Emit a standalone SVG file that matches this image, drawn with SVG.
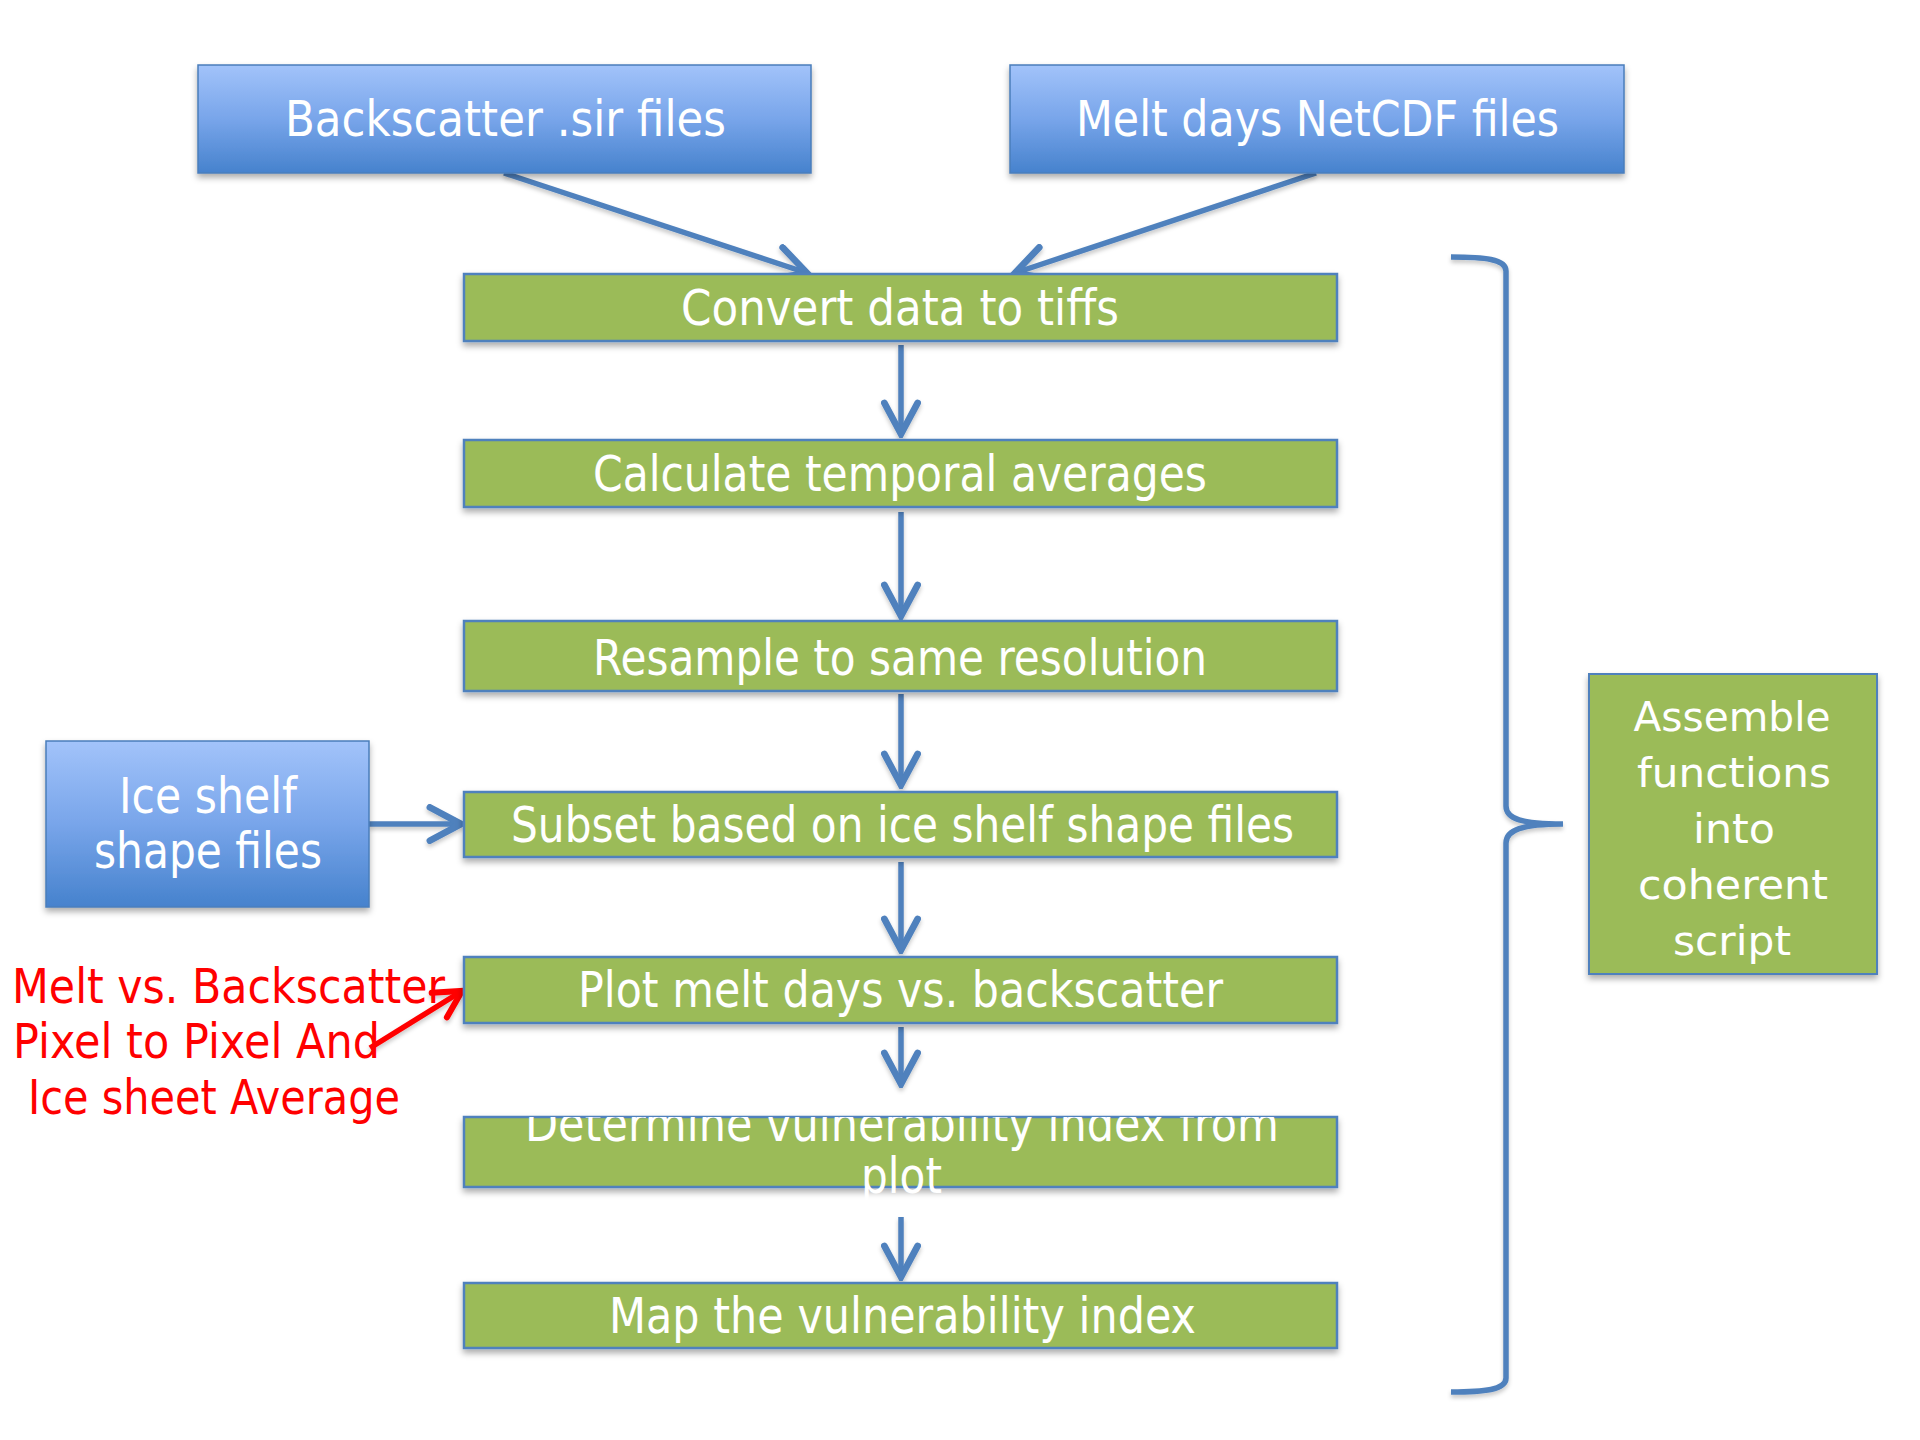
<svg xmlns="http://www.w3.org/2000/svg" width="1920" height="1440" viewBox="0 0 1920 1440">
  <defs>
    <linearGradient id="blueFill" x1="0" y1="0" x2="0" y2="1">
      <stop offset="0" stop-color="#a2c3fa"/>
      <stop offset="0.5" stop-color="#78a5ea"/>
      <stop offset="1" stop-color="#4682cd"/>
    </linearGradient>
    <filter id="shadow" x="-5%" y="-20%" width="110%" height="150%">
      <feDropShadow dx="0" dy="4" stdDeviation="3" flood-color="#000" flood-opacity="0.32"/>
    </filter>
    <filter id="lineShadow" x="-10%" y="-10%" width="120%" height="130%">
      <feDropShadow dx="0" dy="3" stdDeviation="2" flood-color="#000" flood-opacity="0.22"/>
    </filter>
    <marker id="openArrow" markerUnits="userSpaceOnUse" markerWidth="40" markerHeight="40" viewBox="-32 -18 36 36" refX="0" refY="0" orient="auto">
      <path d="M-28,-15 L0,0 L-28,15" fill="none" stroke="#4f81bd" stroke-width="6" stroke-linecap="round" stroke-linejoin="miter"/>
    </marker>
    <marker id="openArrowRed" markerUnits="userSpaceOnUse" markerWidth="40" markerHeight="40" viewBox="-32 -18 36 36" refX="0" refY="0" orient="auto">
      <path d="M-24,-13 L0,0 L-24,13" fill="none" stroke="#ff0000" stroke-width="5.5" stroke-linecap="round" stroke-linejoin="miter"/>
    </marker>
    <clipPath id="clipDetermine">
      <rect x="0" y="1117" width="1920" height="200"/>
    </clipPath>
    <style>
      .src { fill: url(#blueFill); stroke: #4a7ebb; stroke-width: 1.5; filter: url(#shadow); }
      .step { fill: #9bbb59; stroke: #4f81bd; stroke-width: 2.5; filter: url(#shadow); }
      .side { fill: #9bbb59; stroke: #4f81bd; stroke-width: 2; filter: url(#shadow); }
      .lbl { font-family: "DejaVu Sans", "Liberation Sans", sans-serif; font-size: 49px; fill: #ffffff; }
      .lbl2 { font-family: "DejaVu Sans", "Liberation Sans", sans-serif; font-size: 41px; fill: #ffffff; text-anchor: middle; }
      .note { font-family: "DejaVu Sans", "Liberation Sans", sans-serif; font-size: 48px; fill: #ff0000; }
      .conn { fill: none; stroke: #4f81bd; stroke-width: 5.5; marker-end: url(#openArrow); }
      .brace { fill: none; stroke: #4f81bd; stroke-width: 5.5; stroke-linecap: butt; }
    </style>
  </defs>

  <rect x="0" y="0" width="1920" height="1440" fill="#ffffff"/>

  <!-- connectors -->
  <g id="connectors" filter="url(#lineShadow)">
    <path class="conn" d="M504,173 L807,273"/>
    <path class="conn" d="M1316,173 L1015,273"/>
    <path class="conn" d="M901,345 L901,434"/>
    <path class="conn" d="M901,512 L901,616"/>
    <path class="conn" d="M901,694 L901,785"/>
    <path class="conn" d="M901,862 L901,950"/>
    <path class="conn" d="M901,1027 L901,1084"/>
    <path class="conn" d="M901,1217 L901,1277"/>
    <path class="conn" d="M369,824 L461,824"/>
    <path d="M370,1048 L462,991" fill="none" stroke="#ff0000" stroke-width="5.5" marker-end="url(#openArrowRed)"/>
    <path class="brace" d="M1451,257 C1484,257 1506,259 1506,271 L1506,806 C1506,819 1522,824 1563,824 C1522,824 1506,830 1506,843 L1506,1378 C1506,1390 1484,1392 1451,1392"/>
  </g>

  <!-- input sources -->
  <g id="node-backscatter">
    <rect class="src" x="198" y="65" width="613" height="108"/>
    <text class="lbl" x="285" y="136" textLength="441" lengthAdjust="spacingAndGlyphs">Backscatter .sir files</text>
  </g>
  <g id="node-meltdays">
    <rect class="src" x="1010" y="65" width="614" height="108"/>
    <text class="lbl" x="1076" y="136" textLength="483" lengthAdjust="spacingAndGlyphs">Melt days NetCDF files</text>
  </g>
  <g id="node-iceshelf">
    <rect class="src" x="46" y="741" width="323" height="166"/>
    <text class="lbl" x="119" y="813" textLength="178" lengthAdjust="spacingAndGlyphs">Ice shelf</text>
    <text class="lbl" x="94" y="868" textLength="228" lengthAdjust="spacingAndGlyphs">shape files</text>
  </g>

  <!-- processing steps -->
  <g id="node-convert">
    <rect class="step" x="464" y="274" width="873" height="67"/>
    <text class="lbl" x="681" y="325" textLength="438" lengthAdjust="spacingAndGlyphs">Convert data to tiffs</text>
  </g>
  <g id="node-calculate">
    <rect class="step" x="464" y="440" width="873" height="67"/>
    <text class="lbl" x="593" y="491" textLength="614" lengthAdjust="spacingAndGlyphs">Calculate temporal averages</text>
  </g>
  <g id="node-resample">
    <rect class="step" x="464" y="621" width="873" height="70"/>
    <text class="lbl" x="593" y="675" textLength="614" lengthAdjust="spacingAndGlyphs">Resample to same resolution</text>
  </g>
  <g id="node-subset">
    <rect class="step" x="464" y="792" width="873" height="65"/>
    <text class="lbl" x="511" y="842" textLength="783" lengthAdjust="spacingAndGlyphs">Subset based on ice shelf shape files</text>
  </g>
  <g id="node-plot">
    <rect class="step" x="464" y="957" width="873" height="66"/>
    <text class="lbl" x="578" y="1007" textLength="645" lengthAdjust="spacingAndGlyphs">Plot melt days vs. backscatter</text>
  </g>
  <g id="node-determine">
    <rect class="step" x="464" y="1117" width="873" height="70"/>
    <text class="lbl" x="525" y="1141" textLength="754" lengthAdjust="spacingAndGlyphs" clip-path="url(#clipDetermine)">Determine vulnerability index from</text>
    <text class="lbl" x="861" y="1193" textLength="81" lengthAdjust="spacingAndGlyphs">plot</text>
  </g>
  <g id="node-map">
    <rect class="step" x="464" y="1283" width="873" height="65"/>
    <text class="lbl" x="609" y="1333" textLength="587" lengthAdjust="spacingAndGlyphs">Map the vulnerability index</text>
  </g>

  <!-- summary box beside the brace -->
  <g id="node-assemble">
    <rect class="side" x="1589" y="674" width="288" height="300"/>
    <text class="lbl2" x="1732" y="731" textLength="197" lengthAdjust="spacingAndGlyphs">Assemble</text>
    <text class="lbl2" x="1734" y="787" textLength="194" lengthAdjust="spacingAndGlyphs">functions</text>
    <text class="lbl2" x="1734" y="843" textLength="82" lengthAdjust="spacingAndGlyphs">into</text>
    <text class="lbl2" x="1733" y="899" textLength="190" lengthAdjust="spacingAndGlyphs">coherent</text>
    <text class="lbl2" x="1732" y="955" textLength="118" lengthAdjust="spacingAndGlyphs">script</text>
  </g>

  <!-- red annotation -->
  <g id="note-melt-vs-backscatter">
    <text class="note" x="12" y="1003" textLength="433" lengthAdjust="spacingAndGlyphs">Melt vs. Backscatter</text>
    <text class="note" x="13" y="1058" textLength="367" lengthAdjust="spacingAndGlyphs">Pixel to Pixel And</text>
    <text class="note" x="28" y="1114" textLength="372" lengthAdjust="spacingAndGlyphs">Ice sheet Average</text>
  </g>
</svg>
